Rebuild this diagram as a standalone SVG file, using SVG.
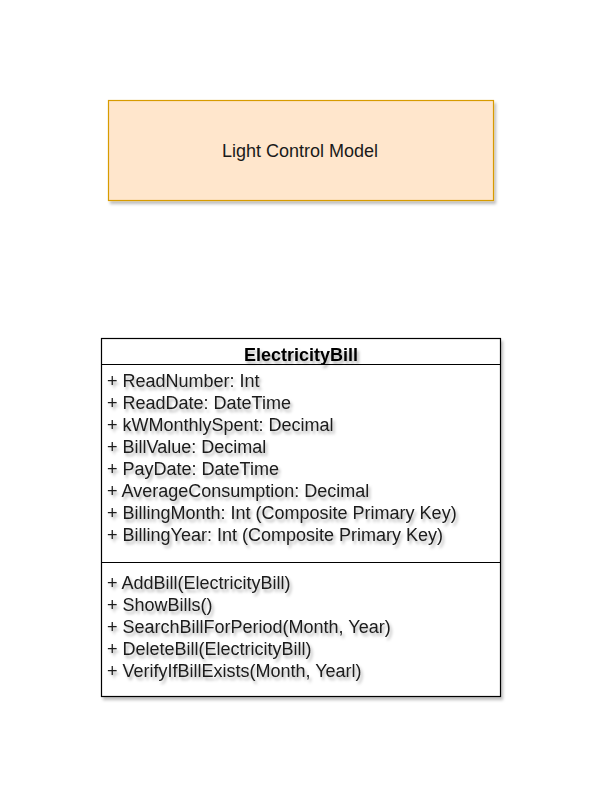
<svg xmlns="http://www.w3.org/2000/svg" width="607" height="807" viewBox="0 0 607 807">
<defs>
<filter id="sh" x="-10%" y="-10%" width="130%" height="140%">
<feDropShadow dx="2" dy="3" stdDeviation="1.5" flood-color="#000" flood-opacity="0.25"/>
</filter>
<filter id="tsh" x="-10%" y="-30%" width="130%" height="180%">
<feDropShadow dx="2" dy="3" stdDeviation="1.8" flood-color="#000" flood-opacity="0.3"/>
</filter>
</defs>
<style>
text{font-family:"Liberation Sans",Arial,sans-serif;font-size:18px;fill:#1a1a1a}
.m{filter:url(#tsh)}
</style>
<rect width="607" height="807" fill="#fff"/>
<g id="light-control-model">
<rect x="108.5" y="100.5" width="385" height="100" fill="#ffe6cc" stroke="#d79b00" stroke-width="1.2" filter="url(#sh)"/>
<text x="300" y="157" text-anchor="middle">Light Control Model</text>
</g>
<g id="electricity-bill">
<rect x="101.5" y="338.5" width="399" height="358" fill="#fff" stroke="#000" stroke-width="1.2" filter="url(#sh)"/>
<line x1="101.5" y1="364.5" x2="500.5" y2="364.5" stroke="#000" stroke-width="1.2"/>
<line x1="101.5" y1="562.5" x2="500.5" y2="562.5" stroke="#000" stroke-width="1.2"/>
<text x="301" y="360.5" text-anchor="middle" font-weight="bold" style="fill:#000" class="m">ElectricityBill</text>
<g class="m">
<text x="107" y="387">+ ReadNumber: Int</text>
<text x="107" y="409">+ ReadDate: DateTime</text>
<text x="107" y="431">+ kWMonthlySpent: Decimal</text>
<text x="107" y="453">+ BillValue: Decimal</text>
<text x="107" y="475">+ PayDate: DateTime</text>
<text x="107" y="497">+ AverageConsumption: Decimal</text>
<text x="107" y="519">+ BillingMonth: Int (Composite Primary Key)</text>
<text x="107" y="541">+ BillingYear: Int (Composite Primary Key)</text>
<text x="107" y="589">+ AddBill(ElectricityBill)</text>
<text x="107" y="611">+ ShowBills()</text>
<text x="107" y="633">+ SearchBillForPeriod(Month, Year)</text>
<text x="107" y="655">+ DeleteBill(ElectricityBill)</text>
<text x="107" y="677">+ VerifyIfBillExists(Month, Yearl)</text>
</g>
</g>
<g id="connectors"/>
</svg>
